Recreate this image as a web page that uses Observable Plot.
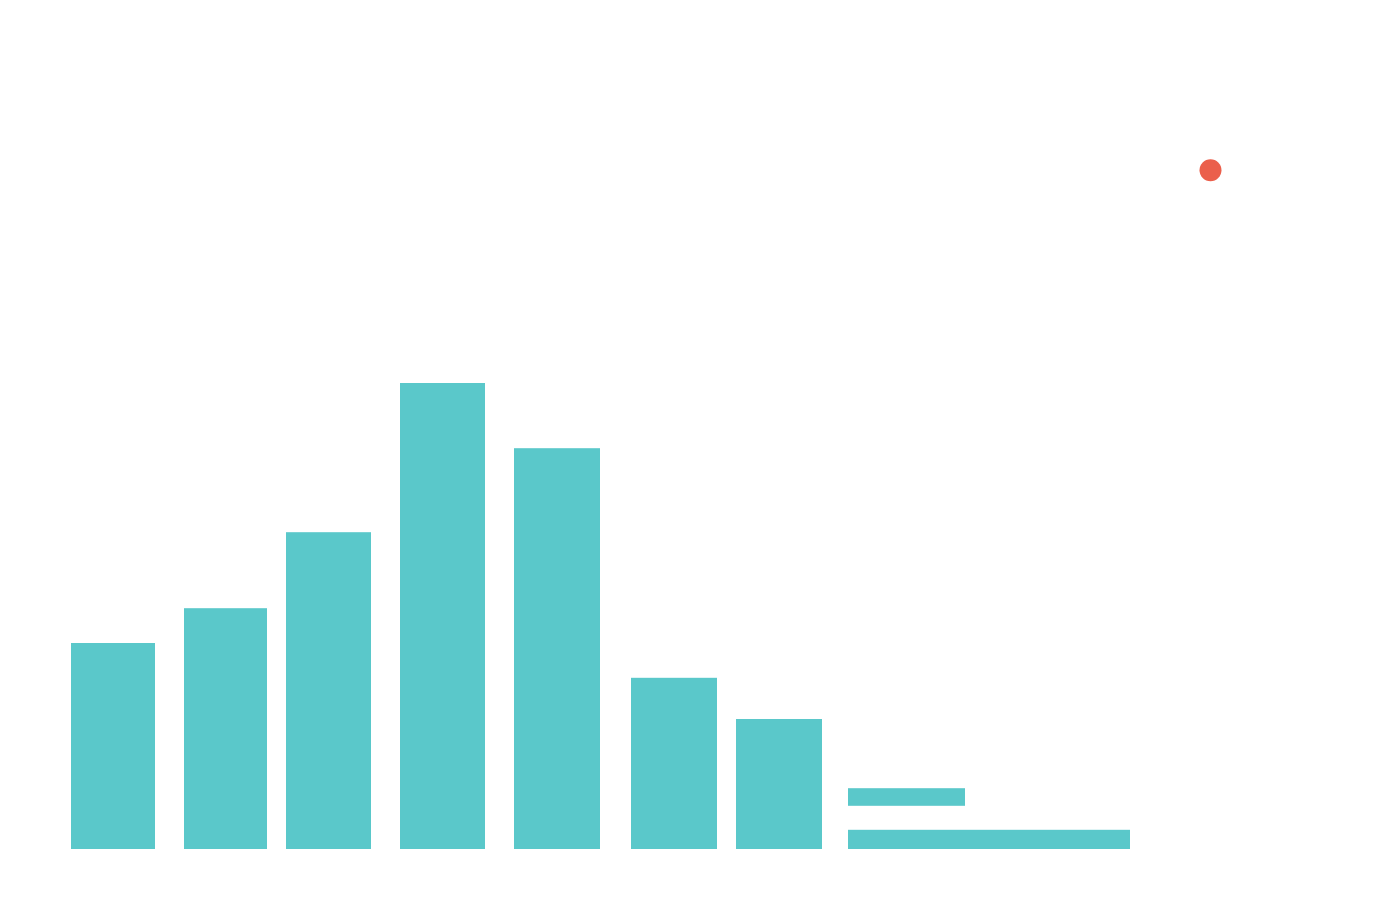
<!DOCTYPE html>
<html>
<head>
<meta charset="utf-8">
<script src="https://cdn.jsdelivr.net/npm/d3@7"></script>
<script src="https://cdn.jsdelivr.net/npm/@observablehq/plot@0.6"></script>
<style>
html, body { margin: 0; padding: 0; background: #ffffff; }
#chart svg { display: block; }
</style>
</head>
<body>
<div id="chart"></div>
<script>
// Bars (x in tens of pixels-equivalent units, y in value units)
const barX1 = [7.1, 18.4, 28.6, 40.0, 51.4, 63.1, 73.6, 84.8, 84.8];
const barX2 = [15.5, 26.7, 37.1, 48.5, 60.0, 71.7, 82.2, 96.5, 113.0];
const barY1 = [0, 0, 0, 0, 0, 0, 0, 5.4, 0];
const barY2 = [25.75, 30.1, 39.6, 58.25, 50.1, 21.4, 16.25, 7.6, 2.4];
// Highlight point
const pointX = [121.0];
const pointY = [84.9];

const bars = barX1.map((x1, i) => ({x1, x2: barX2[i], y1: barY1[i], y2: barY2[i]}));
const points = pointX.map((x, i) => ({x, y: pointY[i]}));

const chart = Plot.plot({
  width: 1400,
  height: 900,
  margin: 0,
  x: {domain: [0, 140], range: [0, 1400], axis: null},
  y: {domain: [0, 100], range: [849, 49], axis: null},
  marks: [
    Plot.rect(bars, {x1: "x1", x2: "x2", y1: "y1", y2: "y2", fill: "#5AC8CA"}),
    Plot.dot(points, {x: "x", y: "y", r: 11, fill: "#EB5F4B", stroke: "none"})
  ]
});
document.getElementById("chart").appendChild(chart);
</script>
</body>
</html>
